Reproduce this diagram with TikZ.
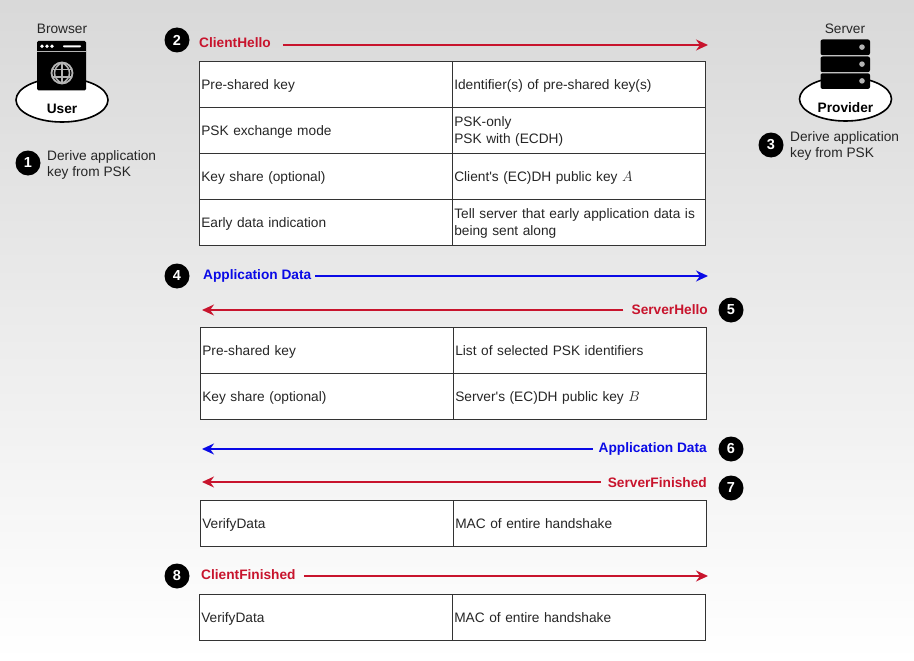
\documentclass[tikz,border=0pt]{standalone}
\usepackage{amsmath}
\usepackage{fontspec}
\setmainfont[Ligatures=TeXOff]{Liberation Sans}
\DeclareMathSizes{13.7}{14.4}{10}{7}
\usetikzlibrary{arrows.meta,shapes.geometric,shadows}
\definecolor{msgred}{HTML}{C8142D}
\definecolor{msgblue}{HTML}{0A0AE6}
\definecolor{iconglyph}{HTML}{B4B4B4}
\tikzset{
  txt/.style={font=\fontsize{13.7}{16.3}\selectfont, text=black!85, inner sep=0pt},
  cell/.style={txt, draw=black!80, line width=1pt, fill=white, minimum width=253pt, minimum height=46pt,
    anchor=north west, align=left, text width=250pt, inner xsep=1.5pt,
    execute at begin node={\rule{0pt}{12.2pt}}, execute at end node={\rule[-3pt]{0pt}{3pt}}},
  badge/.style={circle, fill=black, text=white, minimum size=25pt, inner sep=0pt,
    font=\fontsize{14.5}{14.5}\selectfont\bfseries},
  redlabel/.style={inner sep=0pt, text=msgred, font=\fontsize{13.7}{16}\selectfont\bfseries},
  bluelabel/.style={inner sep=0pt, text=msgblue, font=\fontsize{13.7}{16}\selectfont\bfseries},
  redmsg/.style={draw=msgred, line width=1.3pt, -{Stealth[length=12pt,width=11pt]}},
  bluemsg/.style={draw=msgblue, line width=1.3pt, -{Stealth[length=12pt,width=11pt]}},
  party/.style={ellipse, draw=black, line width=1.6pt, fill=white, minimum width=92pt, minimum height=44pt,
    drop shadow={shadow xshift=0.5pt, shadow yshift=-0.8pt, fill=black!40, opacity=0.5}},
  partyname/.style={inner sep=0pt, font=\fontsize{13.7}{16}\selectfont\bfseries},
}
\begin{document}
\begin{tikzpicture}[x=1pt,y=-1pt]
% draw background
    \shade[top color=black!15, bottom color=white] (0,0) rectangle (914,661);
    \useasboundingbox (0,0) rectangle (914,661);
    % draw browser side
    \node[party] (user) at (62,100) {};
    \node[partyname] (username) at (62,108.5) {User};
    \node[txt] (browser) at (62,28.5) {Browser};
    \fill[black, rounded corners=1.5pt] (37,41) rectangle (86,90.5);
    \fill[iconglyph] (37,51) rectangle (86,51.8);
    \foreach \x in {42,47,52}
        \fill[white] (\x,46.3) circle (1.9);
    \fill[white, rounded corners=0.8pt] (63,45.3) rectangle (81,47.3);
    \draw[iconglyph, line width=1.8pt] (62,73) circle (10.5);
    \draw[iconglyph, line width=1.5pt] (62,62.5) -- (62,83.5);
    \draw[iconglyph, line width=1.5pt] (62,62.5) .. controls (52,68) and (52,78) .. (62,83.5);
    \draw[iconglyph, line width=1.5pt] (62,62.5) .. controls (72,68) and (72,78) .. (62,83.5);
    \draw[iconglyph, line width=1.5pt] (52.5,69.5) -- (71.5,69.5);
    \draw[iconglyph, line width=1.5pt] (52.5,77) -- (71.5,77);
    % draw server side
    \node[party] (provider) at (845.5,99) {};
    \node[partyname] (providername) at (845.5,107.5) {Provider};
    \node[txt] (server) at (845,28.5) {Server};
    \foreach \y in {39.5,56.5,73.3} {
        \fill[black, rounded corners=2pt] (820.5,\y) rectangle (870,\y+15.6);
        \fill[iconglyph] (862,\y+7.6) circle (2.8);
    }
    %draw badges and notes
    \node[badge] (one) at (28,163) {1};
    \node[txt, anchor=west, align=left] (onenote) at (47,165) {Derive application\\key from PSK};
    \node[badge] (three) at (771,145) {3};
    \node[txt, anchor=west, align=left] (threenote) at (790,146) {Derive application\\key from PSK};
    \node[badge] (two) at (177,40) {2};
    \node[badge] (four) at (177,276) {4};
    \node[badge] (five) at (731,310) {5};
    \node[badge] (six) at (731,449) {6};
    \node[badge] (seven) at (731,488) {7};
    \node[badge] (eight) at (177,576) {8};
    % draw messages
    \coordinate (helloend) at (708,45);
    \coordinate (earlyend) at (708,276);
    \coordinate (shelloend) at (202,310);
    \coordinate (serverdataend) at (202,449);
    \coordinate (sfinishedend) at (202,482);
    \coordinate (cfinishedend) at (708,576);
    \node[redlabel, anchor=base west] (hello) at (199,48) {ClientHello};
    \node[bluelabel, anchor=base west] (early) at (203,279) {Application Data};
    \node[redlabel, anchor=base east] (shello) at (708,314) {ServerHello};
    \node[bluelabel, anchor=base east] (serverdata) at (707,452.5) {Application Data};
    \node[redlabel, anchor=base east] (sfinished) at (707,487) {ServerFinished};
    \node[redlabel, anchor=base west] (cfinished) at (201,579.5) {ClientFinished};
    \draw[redmsg, shorten <=12pt] (hello.east |- helloend) -- (helloend);
    \draw[bluemsg, shorten <=4pt] (early.east |- earlyend) -- (earlyend);
    \draw[redmsg, shorten <=8pt] (shello.west |- shelloend) -- (shelloend);
    \draw[bluemsg, shorten <=6pt] (serverdata.west |- serverdataend) -- (serverdataend);
    \draw[redmsg, shorten <=7pt] (sfinished.west |- sfinishedend) -- (sfinishedend);
    \draw[redmsg, shorten <=8pt] (cfinished.east |- cfinishedend) -- (cfinishedend);
    % draw tables
    \node[cell] (hkeyl) at (199.3,61) {Pre-shared key};
    \node[cell] (hkeyr) at (452.3,61) {Identifier(s) of pre-shared key(s)};
    \node[cell] (hmodel) at (199.3,107) {PSK exchange mode};
    \node[cell] (hmoder) at (452.3,107) {PSK-only\\PSK with (ECDH)};
    \node[cell] (hsharel) at (199.3,153) {Key share (optional)};
    \node[cell] (hsharer) at (452.3,153) {Client's (EC)DH public key $A$};
    \node[cell] (hearlyl) at (199.3,199) {Early data indication};
    \node[cell] (hearlyr) at (452.3,199) {Tell server that early application data is\\being sent along};
    \node[cell] (skeyl) at (200.3,327) {Pre-shared key};
    \node[cell] (skeyr) at (453.3,327) {List of selected PSK identifiers};
    \node[cell] (ssharel) at (200.3,373) {Key share (optional)};
    \node[cell] (ssharer) at (453.3,373) {Server's (EC)DH public key $B$};
    \node[cell] (sverifyl) at (200.3,500) {VerifyData};
    \node[cell] (sverifyr) at (453.3,500) {MAC of entire handshake};
    \node[cell] (cverifyl) at (199.3,594) {VerifyData};
    \node[cell] (cverifyr) at (452.3,594) {MAC of entire handshake};
\end{tikzpicture}
\end{document}
